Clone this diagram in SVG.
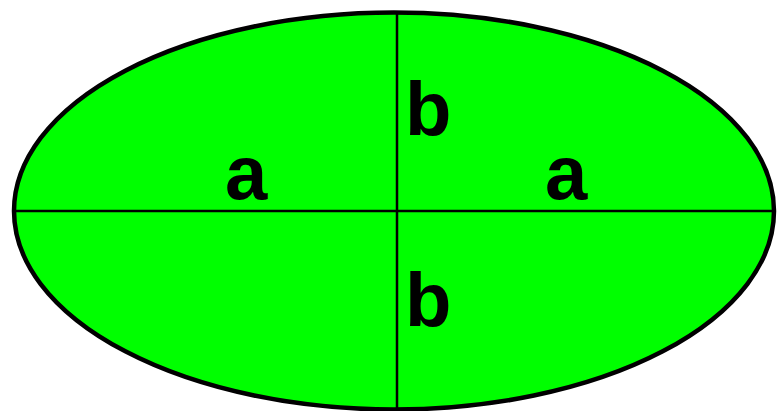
<svg xmlns="http://www.w3.org/2000/svg" width="778" height="411" viewBox="0 0 778 411">
<style>
.lbl{font-family:"Liberation Sans",Arial,sans-serif;font-weight:bold;font-size:76px;fill:#000}
.ax{stroke:#000;stroke-width:2.5;fill:none}
</style>
<rect width="778" height="411" fill="#fff"/>
<g id="ellipse">
<ellipse cx="394" cy="211" rx="380" ry="198.5" fill="#00ff00" stroke="#000" stroke-width="4.5"/>
</g>
<g id="connectors">
<line class="ax" x1="14" y1="211" x2="774" y2="211"/>
<line class="ax" x1="397" y1="12" x2="397" y2="409"/>
</g>
<g id="labels">
<text class="lbl" x="225" y="199">a</text>
<text class="lbl" x="545" y="199">a</text>
<text class="lbl" x="405" y="135">b</text>
<text class="lbl" x="405" y="326">b</text>
</g>
</svg>
